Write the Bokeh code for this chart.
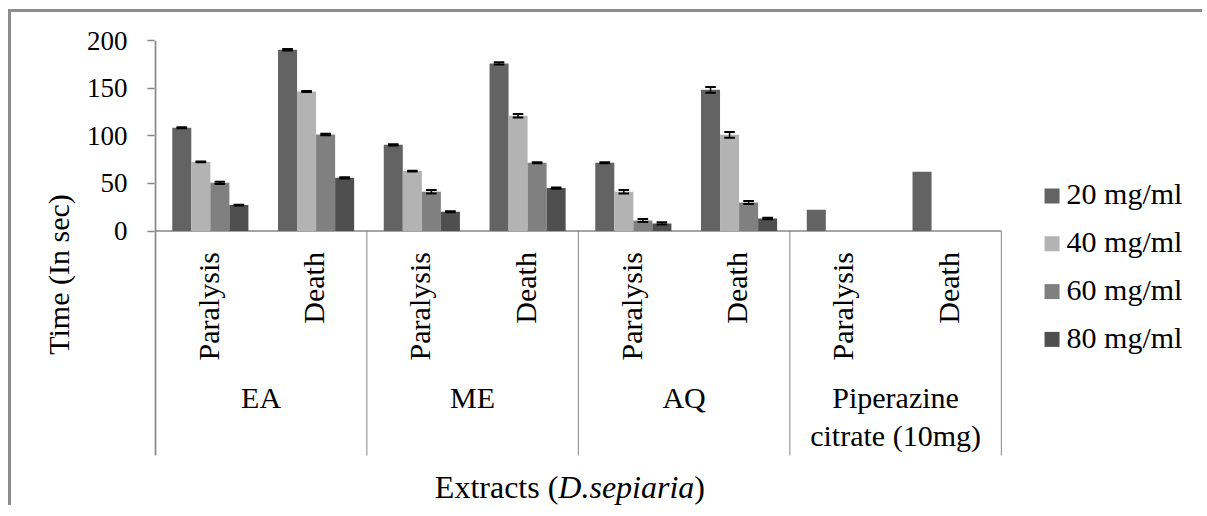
import math
from bokeh.plotting import figure
from bokeh.models import ColumnDataSource, FixedTicker, Range1d
from bokeh.transform import dodge
from bokeh.core.properties import value
from bokeh.embed import file_html
from bokeh.resources import INLINE

nan = float("nan")

# ---------------- data ----------------
groups = ["EA", "ME", "AQ", "Piperazine citrate (10mg)"]
group_labels = ["EA", "ME", "AQ", "Piperazine\ncitrate (10mg)"]
outcomes = ["Paralysis", "Death"]
series_names = ["20 mg/ml", "40 mg/ml", "60 mg/ml", "80 mg/ml"]

# order: EA-Paralysis, EA-Death, ME-Paralysis, ME-Death, AQ-Paralysis, AQ-Death, Pip-Paralysis, Pip-Death
s20 = [108.4, 190.2, 90.5, 175.9, 71.7, 148.3, 22.3, 62.2]
s40 = [72.7, 146.5, 63.0, 121.0, 41.3, 101.0, nan, nan]
s60 = [50.7, 101.4, 41.2, 71.7, 11.1, 30.0, nan, nan]
s80 = [27.3, 55.9, 20.3, 45.1, 8.0, 13.2, nan, nan]

e20 = [0.6, 0.8, 0.6, 1.2, 0.6, 3.0, nan, nan]
e40 = [0.4, 0.6, 0.4, 1.8, 1.8, 3.0, nan, nan]
e60 = [1.2, 0.8, 1.8, 0.5, 1.5, 1.5, nan, nan]
e80 = [0.4, 0.6, 0.4, 0.6, 1.2, 0.8, nan, nan]

y_ticks = [0, 50, 100, 150, 200]
x_title = ["Extracts (", "D.sepiaria", ")"]
y_title = "Time (In sec)"

# ---------------- style ----------------
colors = ["#636363", "#b3b3b3", "#808080", "#4f4f4f"]
offsets = [-0.25, -0.07, 0.11, 0.29]
FONT = "Liberation Serif"
AXIS_COL = "#868686"

W, H = 1194, 496
FRAME_LEFT = 143
PX_PER_CAT = 105.75
PX_PER_UNIT_Y = 0.953
x_start = -0.008
x_end = x_start + (W - FRAME_LEFT) / PX_PER_CAT
y_hi = 200
y_lo = -291.1        # frame runs to the bottom of the canvas
sep_bottom = -235.5  # where the category dividers end

k = len(outcomes)
factors = [(g, o) for g in groups for o in outcomes]
cat_x = [i + 0.5 for i in range(len(factors))]
grp_x = [g * k + k / 2 for g in range(len(groups))]
bounds = [(g + 1) * k for g in range(len(groups))]
mid_x = len(factors) / 2

p = figure(width=W, height=H,
           x_range=Range1d(x_start, x_end),
           y_range=Range1d(y_lo, y_hi),
           output_backend="svg", toolbar_location=None,
           x_axis_location=None,
           min_border_left=FRAME_LEFT, min_border_right=0,
           min_border_top=28, min_border_bottom=0)
p.styles = {"border-left": "3px solid #8c8c8c", "border-top": "3px solid #8c8c8c",
            "margin-left": "8px", "margin-top": "9px"}
p.outline_line_color = None
p.xgrid.visible = False
p.ygrid.visible = False
p.background_fill_color = "white"
p.border_fill_color = "white"

yax = p.yaxis[0]
yax.ticker = FixedTicker(ticks=y_ticks)
yax.minor_tick_line_color = None
yax.major_tick_in = 0
yax.major_tick_out = 7
yax.major_tick_line_color = AXIS_COL
yax.major_tick_line_width = 1.5
yax.axis_line_color = None
yax.major_label_text_font = FONT
yax.major_label_text_font_size = "27px"
yax.major_label_text_color = "black"
yax.major_label_standoff = 20
yax.axis_label = y_title
yax.axis_label_text_font = FONT
yax.axis_label_text_font_size = "30px"
yax.axis_label_text_font_style = "normal"
yax.axis_label_text_color = "black"
yax.axis_label_standoff = 9

# vertical axis line (stops at the bottom of the category box)
p.segment(x0=[0], y0=[y_hi], x1=[0], y1=[sep_bottom], line_color=AXIS_COL, line_width=2)

# baseline at 0 across the category box
p.segment(x0=[0], y0=[0], x1=[bounds[-1]], y1=[0], line_color=AXIS_COL, line_width=1.5)

# separators between groups
p.segment(x0=bounds, y0=0, x1=bounds, y1=sep_bottom, line_color=AXIS_COL, line_width=1)

# bars
all_vals = [s20, s40, s60, s80]
all_errs = [e20, e40, e60, e80]
for i in range(4):
    vals = all_vals[i]
    errs = all_errs[i]
    hi = [v + e for v, e in zip(vals, errs)]
    lo = [v - e for v, e in zip(vals, errs)]
    src = ColumnDataSource(dict(x=cat_x, top=vals, hi=hi, lo=lo))
    off = offsets[i]
    p.vbar(x=dodge("x", off), top="top", width=0.18,
           fill_color=colors[i], line_color=None, source=src)
    p.segment(x0=dodge("x", off), y0="lo", x1=dodge("x", off), y1="hi",
              line_color="black", line_width=1.5, source=src)
    for key in ("hi", "lo"):
        p.segment(x0=dodge("x", off - 0.05), y0=key, x1=dodge("x", off + 0.05), y1=key,
                  line_color="black", line_width=2, source=src)

# category labels (rotated)
cat_src = ColumnDataSource(dict(x=cat_x, label=[f[1] for f in factors]))
p.text(x="x", y=0, text="label", angle=math.pi / 2, text_align="right",
       text_baseline="middle", y_offset=21, text_font=value(FONT),
       text_font_size="30px", text_color="black", source=cat_src)

# group labels
grp_src = ColumnDataSource(dict(x=grp_x, label=group_labels))
p.text(x="x", y=0, text="label", text_align="center", text_baseline="top",
       y_offset=150, text_font=value(FONT), text_font_size="30px",
       text_line_height=1.15, text_color="black", source=grp_src)

# x axis title, centred under the category box
p.text(x=[mid_x], y=[0], text=[x_title[0]], text_align="right", text_baseline="alphabetic",
       x_offset=-20, y_offset=256, text_font=value(FONT), text_font_size="32px",
       text_color="black")
p.text(x=[mid_x], y=[0], text=[x_title[1]], text_align="left", text_baseline="alphabetic",
       x_offset=-20, y_offset=256, text_font=value(FONT), text_font_size="32px",
       text_font_style="italic", text_color="black")
p.text(x=[mid_x], y=[0], text=[x_title[2]], text_align="left", text_baseline="alphabetic",
       x_offset=116, y_offset=256, text_font=value(FONT), text_font_size="32px",
       text_color="black")

# legend (drawn as glyphs to the right of the category box)
leg_x = bounds[-1] + 50.7 / PX_PER_CAT
leg_top = y_hi - 155.5 / PX_PER_UNIT_Y
leg_pitch = 47.8 / PX_PER_UNIT_Y
leg_y = [leg_top - j * leg_pitch for j in range(len(series_names))]
leg_src = ColumnDataSource(dict(x=[leg_x] * len(series_names), y=leg_y,
                                color=colors, label=series_names))
p.rect(x="x", y="y", width=15, height=15, width_units="screen", height_units="screen",
       fill_color="color", line_color=None, source=leg_src)
p.text(x="x", y="y", text="label", text_align="left", text_baseline="middle",
       x_offset=14.5, y_offset=-2, text_font=value(FONT), text_font_size="30px",
       text_color="black", source=leg_src)

open("out.html", "w").write(file_html(p, INLINE))
